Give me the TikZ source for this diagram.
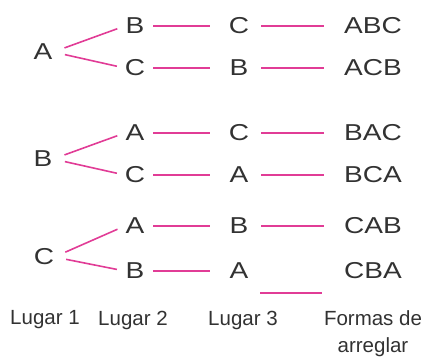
\documentclass[tikz,border=0pt]{standalone}
\usepackage{fontspec}
\setmainfont{Liberation Sans}
\newfontfamily\letterfont[FakeStretch=1.22]{Liberation Sans}
\definecolor{pinkline}{RGB}{225,60,150}
\definecolor{txt}{RGB}{50,50,50}
\begin{document}
\begin{tikzpicture}[x=1pt,y=-1pt,
  letter/.style={inner sep=0pt,minimum width=20pt,text=txt,font=\letterfont\fontsize{23}{24}\selectfont},
  result/.style={inner sep=0pt,minimum width=60pt,text=txt,font=\letterfont\fontsize{23}{24}\selectfont},
  lbl/.style={inner sep=0pt,text=txt,align=center,font=\fontsize{20.5}{27}\selectfont},
  conn/.style={draw=pinkline,line width=1.6pt},
  branch/.style={conn,shorten <=12pt,shorten >=8pt},
  seg1/.style={conn,shorten <=8pt,shorten >=19pt},
  seg2/.style={conn,shorten <=12pt,shorten >=19pt}]
\useasboundingbox (0,0) rectangle (425,356);
% roots
\node[letter] (ra) at (43,52) {A};
\node[letter] (rb) at (43,159) {B};
\node[letter] (rc) at (44,257) {C};
% column 2
\node[letter] (b2a) at (135,26) {B};
\node[letter] (b2b) at (135,68) {C};
\node[letter] (b2c) at (135,133) {A};
\node[letter] (b2d) at (135,175) {C};
\node[letter] (b2e) at (135,226) {A};
\node[letter] (b2f) at (135,271) {B};
% column 3
\node[letter] (b3a) at (239,26) {C};
\node[letter] (b3b) at (239,68) {B};
\node[letter] (b3c) at (239,133) {C};
\node[letter] (b3d) at (239,175) {A};
\node[letter] (b3e) at (239,226) {B};
\node[letter] (b3f) at (239,271) {A};
% results
\node[result] (ra1) at (373,26) {ABC};
\node[result] (ra2) at (373,68) {ACB};
\node[result] (ra3) at (373,133) {BAC};
\node[result] (ra4) at (373,175) {BCA};
\node[result] (ra5) at (373,226) {CAB};
\node[result] (ra6) at (373,271) {CBA};
% branches
\draw[branch] (ra.east) -- (b2a.west);
\draw[branch] (ra.east) -- (b2b.west);
\draw[branch] (rb.east) -- (b2c.west);
\draw[branch] (rb.east) -- (b2d.west);
\draw[branch] (rc.east) -- (b2e.west);
\draw[branch] (rc.east) -- (b2f.west);
% segments
\foreach \i/\j in {b2a/b3a,b2b/b3b,b2c/b3c,b2d/b3d,b2e/b3e,b2f/b3f}
  \draw[seg1] (\i.east) -- (\j.west);
\foreach \i/\j in {b3a/ra1,b3b/ra2,b3c/ra3,b3d/ra4,b3e/ra5}
  \draw[seg2] (\i.east) -- (\j.west);
\coordinate (lx1) at (260,293);
\coordinate (lx2) at (322,293);
\draw[conn] (lx1) -- (lx2);
% labels
\node[lbl] (l1) at (45,320) {Lugar 1};
\node[lbl] (l2) at (133,320) {Lugar 2};
\node[lbl] (l3) at (243,320) {Lugar 3};
\node[lbl,anchor=north] (l4) at (373,310) {Formas de\\arreglar};
\end{tikzpicture}
\end{document}
